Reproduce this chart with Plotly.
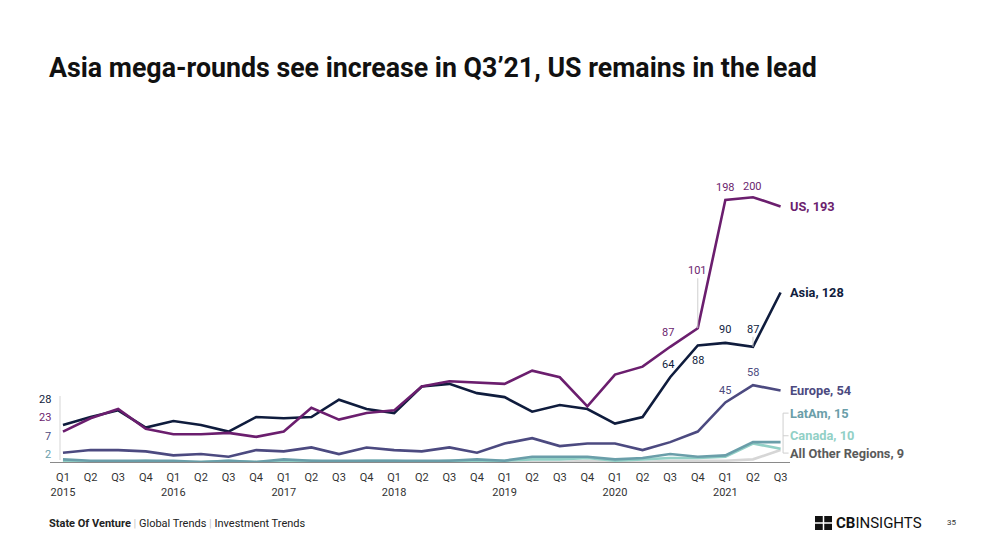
import plotly.graph_objects as go

# ---------------- data ----------------
quarters = ["Q1", "Q2", "Q3", "Q4"] * 6 + ["Q1", "Q2", "Q3"]
years = ["2015", "2016", "2017", "2018", "2019", "2020", "2021"]

us = [23, 33, 40, 25, 21, 21, 22, 19, 23, 41, 32, 37, 39, 57, 61, 60, 59, 69, 64, 42, 66, 72, 87, 101, 198, 200, 193]
asia = [28, 34, 39, 26, 31, 28, 23, 34, 33, 34, 47, 40, 37, 57, 59, 52, 49, 38, 43, 40, 29, 34, 64, 88, 90, 87, 128]
europe = [7, 9, 9, 8, 5, 6, 4, 9, 8, 11, 6, 11, 9, 8, 11, 7, 14, 18, 12, 14, 14, 9, 15, 23, 45, 58, 54]
latam = [2, 1, 1, 1, 1, 0, 1, 0, 2, 1, 1, 1, 1, 1, 1, 2, 1, 4, 4, 4, 2, 3, 6, 4, 5, 15, 15]
canada = [1, 0, 0, 1, 0, 0, 1, 0, 1, 1, 0, 1, 1, 0, 1, 1, 1, 2, 2, 3, 1, 2, 3, 3, 4, 14, 10]
other = [0, 0, 0, 0, 0, 0, 0, 0, 0, 0, 0, 0, 0, 0, 1, 0, 0, 0, 0, 1, 0, 0, 1, 1, 1, 2, 9]

series_names = ["All Other Regions", "Canada", "LatAm", "Europe", "Asia", "US"]

# ---------------- styles ----------------
C_US = "#6b1e6e"
C_ASIA = "#0f1c3d"
C_EU = "#4c4a80"
C_LATAM = "#6a9ea9"
C_CANADA = "#92d0c6"
C_OTHER = "#d6d6d6"
FONT = "Roboto"

OFF = 8  # default page body margin
W, H = 987 - OFF, 541 - OFF
ML, MT = 50 - OFF, 171 - OFF
MR = W - (790 - OFF)
MB = H - (462 - OFF)
PW, PH = W - ML - MR, H - MT - MB
X0 = -0.47
XSTEP = 27.6  # px per quarter
K = 1.324     # px per unit
YMAX = PH / K

n = len(quarters)
xs = list(range(n))
ticktext = []
yi = 0
for i, q in enumerate(quarters):
    if q == "Q1":
        ticktext.append(q + "<br>" + years[yi])
        yi += 1
    else:
        ticktext.append(q)


def px_x(px):
    return (px - OFF - ML) / PW


def px_y(py):
    return (H - MB - (py - OFF)) / PH


fig = go.Figure()

data = [
    (other, C_OTHER),
    (canada, C_CANADA),
    (latam, C_LATAM),
    (europe, C_EU),
    (asia, C_ASIA),
    (us, C_US),
]
for (vals, col), name in zip(data, series_names):
    fig.add_trace(go.Scatter(x=xs, y=vals, mode="lines", name=name,
                             line=dict(color=col, width=2.6),
                             hoverinfo="skip"))

ann = []
shapes = []

# end labels
end_labels = [
    ("US", us, C_US, 0),
    ("Asia", asia, C_ASIA, 0),
    ("Europe", europe, C_EU, 0),
    ("LatAm", latam, C_LATAM, 29),
    ("Canada", canada, C_CANADA, 13),
    ("All Other Regions", other, "#5a5a5a", -3),
]
for name, vals, col, ys in end_labels:
    ann.append(dict(x=n - 1, y=vals[-1], xref="x", yref="y",
                    text="<b>%s, %d</b>" % (name, vals[-1]),
                    showarrow=False, xanchor="left", yanchor="middle",
                    xshift=7, yshift=ys,
                    font=dict(family=FONT, size=12.8, color=col)))

# bracket for small series
yb_top = latam[-1] + 29 / K
yb_bot = other[-1] - 3 / K
xb = n - 1 + 2.5 / XSTEP
xb2 = n - 1 + 8 / XSTEP
shapes.append(dict(type="line", xref="x", yref="y", x0=xb, x1=xb, y0=yb_top, y1=yb_bot,
                   line=dict(color="#cfcfcf", width=1)))
for yv in [yb_top, canada[-1] + 13 / K, yb_bot]:
    shapes.append(dict(type="line", xref="x", yref="y", x0=xb, x1=xb2, y0=yv, y1=yv,
                       line=dict(color="#cfcfcf", width=1)))

# data labels (index, value list, color, xshift, yshift)
point_labels = [
    (22, us, C_US, -2, 14),
    (23, us, C_US, 0, 58),
    (24, us, C_US, 0, 12),
    (25, us, C_US, 0, 11),
    (22, asia, C_ASIA, -2, 13),
    (23, asia, C_ASIA, 0, -15),
    (24, asia, C_ASIA, 0, 13),
    (25, asia, C_ASIA, 0, 17),
    (24, europe, C_EU, 0, 12),
    (25, europe, C_EU, 0, 13),
]
for i, vals, col, xsft, ysft in point_labels:
    ann.append(dict(x=i, y=vals[i], xref="x", yref="y", text=str(vals[i]),
                    showarrow=False, xanchor="center", yanchor="middle",
                    xshift=xsft, yshift=ysft,
                    font=dict(family=FONT, size=11, color=col)))

# leader lines for data labels
shapes.append(dict(type="line", xref="x", yref="y", x0=23, x1=23,
                   y0=us[23] + 50 / K, y1=us[23], line=dict(color="#cfcfcf", width=1)))
shapes.append(dict(type="line", xref="x", yref="y", x0=25, x1=25,
                   y0=asia[25] + 10 / K, y1=asia[25], line=dict(color="#cfcfcf", width=1)))

# first-quarter labels on the left
first_labels = [(asia, C_ASIA), (us, C_US), (europe, C_EU), (latam, C_LATAM)]
label_py = [399, 417, 436, 454]
for (vals, col), py in zip(first_labels, label_py):
    ann.append(dict(x=px_x(53), y=px_y(py), xref="paper", yref="paper", text=str(vals[0]),
                    showarrow=False, xanchor="right", yanchor="middle",
                    font=dict(family=FONT, size=11, color=col)))
shapes.append(dict(type="line", xref="paper", yref="paper", x0=px_x(60), x1=px_x(60),
                   y0=px_y(396), y1=px_y(460), line=dict(color="#d5d5d5", width=1)))

# title
ann.append(dict(x=px_x(47), y=px_y(68), xref="paper", yref="paper",
                text="<b>Asia mega-rounds see increase in Q3’21, US remains in the lead</b>",
                showarrow=False, xanchor="left", yanchor="middle",
                font=dict(family=FONT, size=26.75, color="#111111")))

# footer
ann.append(dict(x=px_x(47), y=px_y(523), xref="paper", yref="paper",
                text="<b>State Of Venture</b> <span style='color:#c8c8c8'>|</span> Global Trends "
                     "<span style='color:#c8c8c8'>|</span> Investment Trends",
                showarrow=False, xanchor="left", yanchor="middle",
                font=dict(family=FONT, size=11, color="#222222")))
ann.append(dict(x=px_x(834), y=px_y(523), xref="paper", yref="paper",
                text="<b>CB</b>INSIGHTS",
                showarrow=False, xanchor="left", yanchor="middle",
                font=dict(family=FONT, size=15, color="#111111")))
ann.append(dict(x=px_x(951), y=px_y(522), xref="paper", yref="paper",
                text="35", showarrow=False, xanchor="center", yanchor="middle",
                font=dict(family=FONT, size=8, color="#333333")))
# logo icon
shapes.append(dict(type="rect", xref="paper", yref="paper", x0=px_x(815), x1=px_x(832),
                   y0=px_y(530), y1=px_y(516), fillcolor="#111111", line=dict(width=0)))
shapes.append(dict(type="line", xref="paper", yref="paper", x0=px_x(815), x1=px_x(832),
                   y0=px_y(523), y1=px_y(523), line=dict(color="white", width=1.5)))
shapes.append(dict(type="line", xref="paper", yref="paper", x0=px_x(823.5), x1=px_x(823.5),
                   y0=px_y(530), y1=px_y(516), line=dict(color="white", width=1.5)))

fig.update_layout(
    width=W, height=H,
    margin=dict(l=ML, r=MR, t=MT, b=MB),
    paper_bgcolor="white", plot_bgcolor="white",
    showlegend=False,
    font=dict(family=FONT, color="#333333"),
    annotations=ann, shapes=shapes,
    xaxis=dict(range=[X0, X0 + PW / XSTEP], tickmode="array", tickvals=xs, ticktext=ticktext,
               showgrid=False, zeroline=False, showline=True, linecolor="#8a8a8a", linewidth=1,
               ticks="outside", ticklen=5, tickcolor="rgba(0,0,0,0)",
               tickfont=dict(family=FONT, size=11, color="#333333")),
    yaxis=dict(range=[0, YMAX], showgrid=False, zeroline=False, showticklabels=False,
               showline=False),
)

fig.write_html("out.html")
